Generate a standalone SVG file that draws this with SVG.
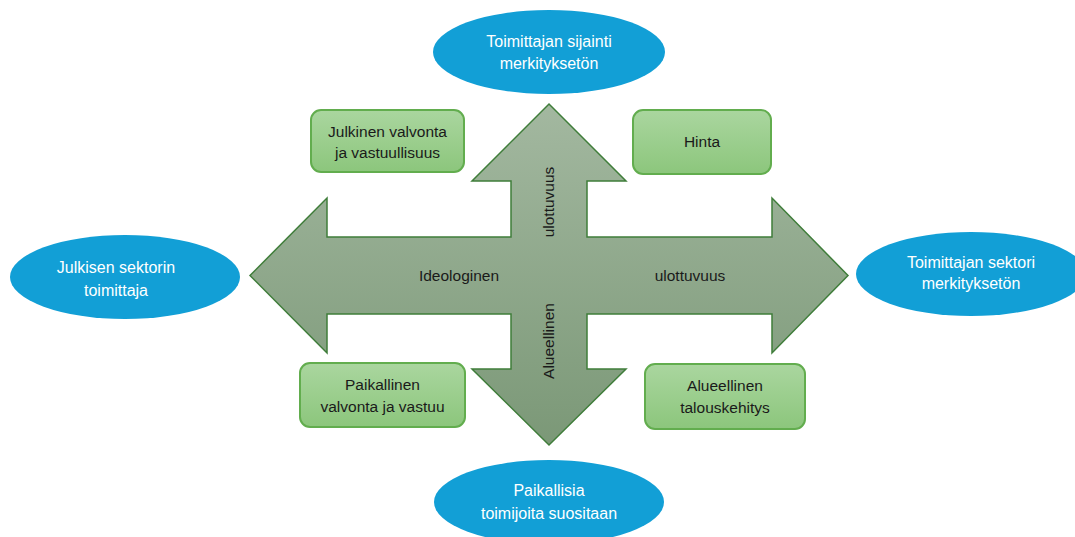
<svg xmlns="http://www.w3.org/2000/svg" width="1075" height="537" viewBox="0 0 1075 537">
<defs>
<linearGradient id="arrowGrad" x1="0" y1="0" x2="0" y2="1">
<stop offset="0" stop-color="#a3b8a0"/>
<stop offset="1" stop-color="#7b9877"/>
</linearGradient>
<linearGradient id="boxGrad" x1="0" y1="0" x2="0" y2="1">
<stop offset="0" stop-color="#aad69f"/>
<stop offset="1" stop-color="#8cc67c"/>
</linearGradient>
<style>
.oval{fill:#129fd6;}
.otext{font-family:"Liberation Sans",Arial,sans-serif;font-size:16px;fill:#ffffff;text-anchor:middle;}
.box{fill:url(#boxGrad);stroke:#62ad4e;stroke-width:2;}
.btext{font-family:"Liberation Sans",Arial,sans-serif;font-size:15.5px;fill:#1a1a1a;text-anchor:middle;}
.atext{font-family:"Liberation Sans",Arial,sans-serif;font-size:15.5px;fill:#1a1a1a;text-anchor:middle;}
</style>
</defs>
<rect width="1075" height="537" fill="#ffffff"/>
<g id="connectors">
<path id="cross-arrow" d="M250,275.5 L327,198 L327,237 L511,237 L511,181 L472,181 L549,104 L626,181 L587,181 L587,237 L772,237 L772,198 L848,275.5 L772,353 L772,314 L587,314 L587,369 L626,369 L549,445 L472,369 L511,369 L511,314 L327,314 L327,353 Z" fill="url(#arrowGrad)" stroke="#3f7d3a" stroke-width="1.5" stroke-linejoin="miter"/>
<text class="atext" x="459" y="281">Ideologinen</text>
<text class="atext" x="690" y="281">ulottuvuus</text>
<text class="atext" transform="translate(554,202) rotate(-90)">ulottuvuus</text>
<text class="atext" transform="translate(554,341) rotate(-90)">Alueellinen</text>
</g>
<g id="node-top">
<ellipse class="oval" cx="549" cy="52" rx="116" ry="42"/>
<text class="otext" x="549" y="47">Toimittajan sijainti</text>
<text class="otext" x="549" y="69">merkityksetön</text>
</g>
<g id="node-left">
<ellipse class="oval" cx="125" cy="277" rx="115" ry="42"/>
<text class="otext" x="116" y="273">Julkisen sektorin</text>
<text class="otext" x="116" y="296">toimittaja</text>
</g>
<g id="node-right">
<ellipse class="oval" cx="971" cy="274" rx="115" ry="42"/>
<text class="otext" x="971" y="268">Toimittajan sektori</text>
<text class="otext" x="971" y="289">merkityksetön</text>
</g>
<g id="node-bottom">
<ellipse class="oval" cx="549" cy="502" rx="115" ry="42"/>
<text class="otext" x="549" y="496">Paikallisia</text>
<text class="otext" x="549" y="519">toimijoita suositaan</text>
</g>
<g id="box-julkinen">
<rect class="box" x="311" y="110" width="153" height="62" rx="10"/>
<text class="btext" x="387.5" y="137">Julkinen valvonta</text>
<text class="btext" x="387.5" y="158">ja vastuullisuus</text>
</g>
<g id="box-hinta">
<rect class="box" x="633" y="110" width="138" height="64" rx="10"/>
<text class="btext" x="702" y="147">Hinta</text>
</g>
<g id="box-paikallinen">
<rect class="box" x="300" y="363" width="165" height="64" rx="10"/>
<text class="btext" x="382.5" y="390">Paikallinen</text>
<text class="btext" x="382.5" y="412">valvonta ja vastuu</text>
</g>
<g id="box-alueellinen">
<rect class="box" x="645" y="364" width="160" height="65" rx="10"/>
<text class="btext" x="725" y="391">Alueellinen</text>
<text class="btext" x="725" y="413">talouskehitys</text>
</g>
</svg>
